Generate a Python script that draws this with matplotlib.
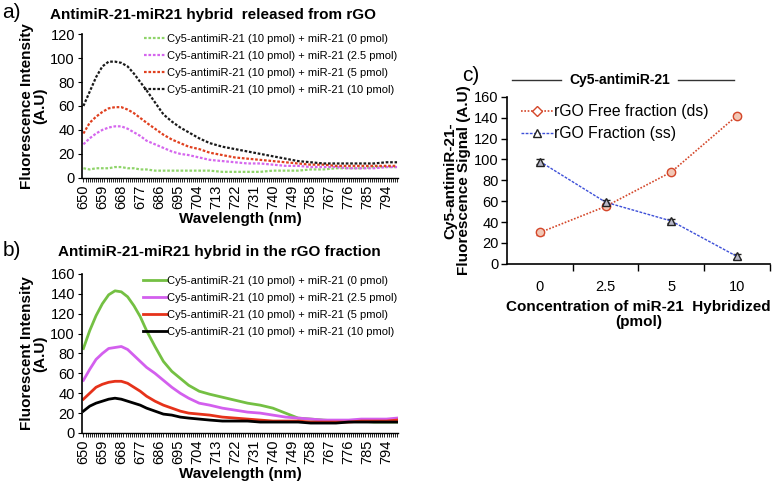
import matplotlib
matplotlib.use("Agg")
import matplotlib.pyplot as plt
from matplotlib.lines import Line2D
from matplotlib.ticker import MultipleLocator, FixedLocator

plt.rcParams["font.family"] = ["Liberation Sans", "DejaVu Sans"]

# wavelength grid (nm) shared by panels a and b
wl = [650, 653, 656, 659, 662, 665, 668, 671, 674, 677, 680, 684, 688, 692, 696, 700, 705,
      710, 716, 722, 728, 734, 740, 746, 752, 758, 764, 770, 776, 782, 788, 794, 799]

labels = ["Cy5-antimiR-21 (10 pmol) + miR-21 (0 pmol)",
          "Cy5-antimiR-21 (10 pmol) + miR-21 (2.5 pmol)",
          "Cy5-antimiR-21 (10 pmol) + miR-21 (5 pmol)",
          "Cy5-antimiR-21 (10 pmol) + miR-21 (10 pmol)"]

# panel a: released from rGO
a_0 = [8, 7, 8, 8, 8, 9, 9, 8, 8, 7, 7, 6, 6, 6, 6, 6, 6,
       6, 5, 5, 5, 5, 6, 6, 6, 7, 7, 8, 8, 8, 9, 9, 9]
a_25 = [28, 33, 37, 40, 42, 43, 43, 41, 38, 35, 31, 28, 25, 22, 20, 19, 17,
        15, 14, 13, 12, 12, 11, 10, 10, 9, 9, 9, 8, 8, 8, 9, 9]
a_5 = [37, 46, 51, 55, 58, 59, 59, 57, 54, 50, 46, 41, 36, 32, 29, 26, 24,
       21, 19, 17, 16, 15, 14, 13, 12, 11, 11, 10, 10, 10, 10, 10, 10]
a_10 = [60, 72, 84, 93, 97, 97, 96, 93, 87, 80, 73, 63, 53, 47, 42, 38, 33,
        29, 26, 24, 22, 20, 18, 16, 14, 13, 12, 12, 12, 12, 12, 13, 13]

# panel b: in the rGO fraction
b_0 = [85, 103, 118, 130, 139, 143, 142, 137, 128, 117, 103, 87, 72, 62, 55, 48, 42,
       39, 36, 33, 30, 28, 25, 20, 15, 14, 13, 12, 12, 12, 11, 11, 11]
b_25 = [53, 64, 74, 80, 85, 86, 87, 84, 78, 72, 66, 60, 53, 46, 40, 35, 30,
        28, 25, 23, 21, 20, 18, 16, 15, 14, 13, 13, 13, 14, 14, 14, 15]
b_5 = [34, 40, 46, 49, 51, 52, 52, 50, 46, 42, 37, 32, 28, 25, 22, 20, 19,
       18, 16, 15, 14, 13, 12, 12, 12, 11, 11, 11, 11, 12, 12, 12, 13]
b_10 = [22, 27, 30, 32, 34, 35, 34, 32, 30, 28, 25, 22, 19, 18, 16, 15, 14,
        13, 12, 12, 12, 11, 11, 11, 11, 10, 10, 10, 11, 11, 11, 11, 11]

# panel c
conc = ["0", "2.5", "5", "10"]
free_ds = [30, 55, 88, 142]
frac_ss = [98, 59, 41, 7]
free_err = [2, 2, 2, 2]
frac_err = [2, 2, 2, 2]

tick_wl = list(range(650, 800, 9))

fig = plt.figure(figsize=(7.73, 4.94), dpi=100)


def style_spectrum(ax, ymax, ystep):
    ax.set_xlim(649.3, 799.5)
    ax.set_ylim(0, ymax)
    ax.xaxis.set_major_locator(FixedLocator(tick_wl))
    ax.xaxis.set_minor_locator(MultipleLocator(1))
    ax.yaxis.set_major_locator(MultipleLocator(ystep))
    ax.tick_params(axis="x", which="both", direction="out", length=3, width=0.6,
                   labelsize=10.5, labelrotation=90, pad=2)
    ax.tick_params(axis="y", direction="out", length=3, width=0.8, labelsize=10.5, pad=2)
    for s in ["top", "right"]:
        ax.spines[s].set_visible(False)
    ax.spines["left"].set_linewidth(1.2)
    ax.spines["bottom"].set_linewidth(1.0)
    ax.set_xlabel("Wavelength (nm)", fontsize=11, fontweight="bold", labelpad=2)


# ---- panel a
ax_a = fig.add_axes([0.106, 0.640, 0.409, 0.291])
ls_a = (0, (1.2, 0.8))
for y, c, lab in zip([a_0, a_25, a_5, a_10],
                     ["#8fd46a", "#d566ee", "#e0401f", "#1a1a1a"], labels):
    ax_a.plot(wl, y, color=c, lw=1.6, ls=ls_a, label=lab)
style_spectrum(ax_a, 120, 20)
ax_a.set_ylabel("Fluorescence Intensity\n(A.U)", fontsize=11, fontweight="bold",
                linespacing=1.0, labelpad=2)
ax_a.legend(loc="upper right", bbox_to_anchor=(1.03, 1.07), frameon=False, fontsize=8,
            handlelength=2.0, handletextpad=0.1, labelspacing=0.62)

# ---- panel b
ax_b = fig.add_axes([0.106, 0.1235, 0.409, 0.322])
for y, c, lab in zip([b_0, b_25, b_5, b_10],
                     ["#74c043", "#d35fee", "#e6321a", "#000000"], labels):
    ax_b.plot(wl, y, color=c, lw=2, label=lab)
style_spectrum(ax_b, 160, 20)
ax_b.set_ylabel("Fluorescent Intensity\n(A.U)", fontsize=11, fontweight="bold",
                linespacing=1.0, labelpad=2)
ax_b.legend(loc="upper right", bbox_to_anchor=(1.03, 1.05), frameon=False, fontsize=8,
            handlelength=2.2, handletextpad=0.0, labelspacing=0.62)

# ---- panel c
ax_c = fig.add_axes([0.656, 0.466, 0.340, 0.338])
xc = range(1, len(conc) + 1)
ax_c.errorbar(xc, free_ds, yerr=free_err, color="#d4472a", ls=(0, (1, 1)), lw=1.2,
              marker="o", ms=6, mfc="#f2c7b5", mec="#d4472a", capsize=3, elinewidth=1)
ax_c.errorbar(xc, frac_ss, yerr=frac_err, color="#3d4fd8", ls=(0, (2, 1)), lw=1.0,
              marker="^", ms=6, mfc="#b8b8c8", mec="#222222", ecolor="#222222",
              capsize=3, elinewidth=1)
handles = [Line2D([], [], color="#d4472a", ls=(0, (1, 1)), lw=1.2, marker="D", ms=5,
                  mfc="white", mec="#d4472a"),
           Line2D([], [], color="#3d4fd8", ls=(0, (2, 1)), lw=1.0, marker="^", ms=6,
                  mfc="white", mec="#222222")]
ax_c.legend(handles, ["rGO Free fraction (ds)", "rGO Fraction (ss)"], loc="upper left",
            bbox_to_anchor=(0.0, 1.04), frameon=False, fontsize=11.3, handlelength=2.0,
            handletextpad=0.1, labelspacing=0.45)
ax_c.set_xlim(0.5, 4.5)
ax_c.set_ylim(0, 160)
ax_c.yaxis.set_major_locator(MultipleLocator(20))
ax_c.set_xticks(list(xc))
ax_c.set_xticklabels(conc)
ax_c.set_xticks([1.5, 2.5, 3.5, 4.5], minor=True)
ax_c.tick_params(axis="x", which="major", length=0, labelsize=10.5, pad=12)
ax_c.tick_params(axis="x", which="minor", length=5, width=1, direction="out")
ax_c.tick_params(axis="y", direction="out", length=4, width=1, labelsize=10.5, pad=2)
for s in ["top", "right"]:
    ax_c.spines[s].set_visible(False)
ax_c.spines["left"].set_linewidth(1.2)
ax_c.spines["bottom"].set_linewidth(1.2)
ax_c.set_xlabel("Concentration of miR-21  Hybridized\n(pmol)", fontsize=11,
                fontweight="bold", linespacing=1.1, labelpad=4)
ax_c.set_ylabel("Cy5-antimiR-21-\nFluorescence Signal (A.U)", fontsize=11,
                fontweight="bold", linespacing=1.0, labelpad=2)

# heading above panel c with side rules
fig.text(0.802, 0.838, "Cy5-antimiR-21", ha="center", va="center", fontsize=10,
         fontweight="bold")
fig.add_artist(Line2D([0.662, 0.726], [0.838, 0.838], color="#333333", lw=1))
fig.add_artist(Line2D([0.877, 0.950], [0.838, 0.838], color="#333333", lw=1))

# panel titles and letters
fig.text(0.003, 0.975, "a)", fontsize=15, va="center")
fig.text(0.065, 0.970, "AntimiR-21-miR21 hybrid  released from rGO", fontsize=11,
         fontweight="bold", va="center")
fig.text(0.003, 0.493, "b)", fontsize=15, va="center")
fig.text(0.075, 0.490, "AntimiR-21-miR21 hybrid in the rGO fraction", fontsize=11,
         fontweight="bold", va="center")
fig.text(0.598, 0.848, "c)", fontsize=15, va="center")

fig.savefig("out.png", dpi=100)
